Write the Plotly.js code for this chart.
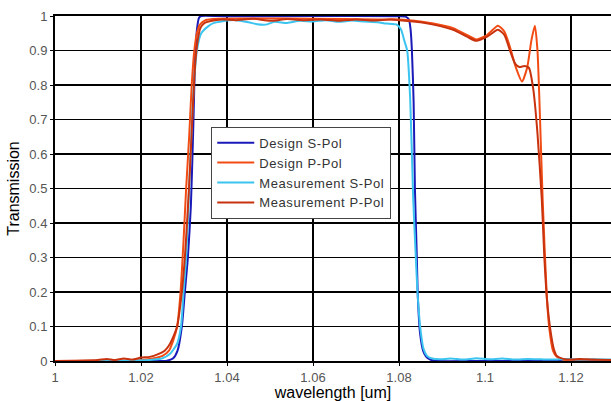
<!DOCTYPE html>
<html>
<head>
<meta charset="utf-8">
<script src="https://cdn.plot.ly/plotly-3.0.1.min.js"></script>
<style>html,body{margin:0;padding:0;background:#fff;}#chart{width:611px;height:401px;}
.legendtext{letter-spacing:0.6px;}</style>
</head>
<body>
<div id="chart"></div>
<script>
// Design S-Pol
const designSX = [1.000,1.020,1.026,1.0275,1.0285,1.0295,1.0302,1.0309,1.0316,1.0321,1.0326,1.0331,1.0335,1.034,1.040,1.060,1.080,1.0815,1.0823,1.0827,1.0830,1.0834,1.0837,1.0841,1.0844,1.0849,1.0856,1.0862,1.0867,1.0875,1.089,1.100,1.130];
const designSY = [0,0,0.001,0.008,0.03,0.1,0.2,0.3,0.45,0.65,0.88,0.97,0.995,1.0,0.999,1.0,0.999,0.998,0.99,0.96,0.9,0.75,0.5,0.32,0.18,0.08,0.03,0.015,0.008,0.003,0,0,0];

// Design P-Pol
const designPX = [1.000,1.015,1.020,1.023,1.025,1.0265,1.0275,1.0284,1.0292,1.0299,1.0305,1.0312,1.0318,1.0324,1.033,1.0337,1.035,1.038,1.045,1.060,1.075,1.080,1.085,1.088,1.0926,1.0958,1.098,1.1005,1.103,1.1045,1.1058,1.1072,1.1086,1.1098,1.1108,1.1116,1.1122,1.1128,1.1134,1.1144,1.115,1.1158,1.1167,1.118,1.120,1.130];
const designPY = [0,0.001,0.003,0.008,0.015,0.03,0.06,0.1,0.2,0.35,0.5,0.65,0.8,0.9,0.95,0.975,0.988,0.992,0.993,0.992,0.99,0.99,0.984,0.978,0.965,0.945,0.932,0.945,0.972,0.955,0.91,0.85,0.81,0.85,0.93,0.972,0.9,0.7,0.47,0.18,0.09,0.03,0.012,0.004,0,0];

// Measurement S-Pol
const measSX = [1.000,1.010,1.018,1.022,1.025,1.0267,1.0284,1.0293,1.0299,1.0305,1.0312,1.0318,1.0323,1.033,1.034,1.0356,1.037,1.039,1.042,1.045,1.047,1.049,1.051,1.054,1.057,1.060,1.063,1.066,1.069,1.072,1.075,1.077,1.0795,1.0805,1.0812,1.0819,1.0826,1.0833,1.0838,1.0843,1.0850,1.0857,1.0865,1.0875,1.0895,1.092,1.095,1.098,1.101,1.104,1.107,1.110,1.113,1.116,1.119,1.122,1.125,1.130];
const measSY = [0,0,0.001,0.003,0.008,0.02,0.05,0.1,0.2,0.3,0.5,0.68,0.8,0.9,0.95,0.97,0.98,0.985,0.988,0.982,0.976,0.975,0.983,0.98,0.986,0.984,0.988,0.983,0.987,0.984,0.982,0.978,0.975,0.96,0.93,0.9,0.76,0.47,0.33,0.2,0.09,0.035,0.015,0.008,0.005,0.007,0.004,0.008,0.005,0.007,0.004,0.006,0.005,0.004,0.006,0.004,0.005,0.004];

// Measurement P-Pol
const measPX = [1.000,1.005,1.010,1.012,1.014,1.016,1.018,1.020,1.022,1.024,1.0255,1.0265,1.0275,1.0284,1.0295,1.0302,1.0308,1.0314,1.0320,1.0326,1.0332,1.0338,1.0348,1.036,1.039,1.042,1.046,1.050,1.054,1.058,1.062,1.066,1.070,1.074,1.078,1.080,1.085,1.088,1.0926,1.0958,1.098,1.1005,1.103,1.1045,1.1058,1.107,1.108,1.1092,1.1102,1.1112,1.1122,1.1132,1.1138,1.1144,1.1152,1.116,1.1167,1.118,1.120,1.122,1.125,1.130];
const measPY = [0,0.001,0.003,0.006,0.003,0.007,0.004,0.01,0.012,0.02,0.03,0.045,0.07,0.1,0.2,0.3,0.42,0.56,0.72,0.86,0.93,0.965,0.98,0.985,0.99,0.988,0.992,0.986,0.991,0.988,0.99,0.986,0.99,0.987,0.99,0.988,0.982,0.975,0.96,0.94,0.928,0.94,0.96,0.945,0.9,0.862,0.852,0.855,0.85,0.79,0.66,0.47,0.3,0.18,0.09,0.035,0.015,0.007,0.004,0.006,0.004,0.003];

const traces = [
  {name:'Design S-Pol', x:designSX, y:designSY, color:'#1a1ab8'},
  {name:'Design P-Pol', x:designPX, y:designPY, color:'#f24c14'},
  {name:'Measurement S-Pol', x:measSX, y:measSY, color:'#3cc4f0'},
  {name:'Measurement P-Pol', x:measPX, y:measPY, color:'#c8320e'}
].map(s => ({type:'scatter', mode:'lines', name:s.name, x:s.x, y:s.y,
  line:{color:s.color, width:2, shape:'spline', smoothing:0.6}}));

const fam = '"Liberation Sans", Arial, sans-serif';
const tickFont = {family:fam, size:13, color:'#555'};
const layout = {
  width:611, height:401,
  margin:{l:55, r:0, t:16, b:40},
  paper_bgcolor:'#fff', plot_bgcolor:'#fff',
  showlegend:true,
  legend:{x:0.281, y:0.679, xanchor:'left', yanchor:'top',
    bgcolor:'#fff', bordercolor:'#444', borderwidth:1,
    font:{family:fam, size:13, color:'#333'},
    tracegroupgap:0, itemwidth:37},
  xaxis:{range:[1.0, 1.1293], tickvals:[1,1.02,1.04,1.06,1.08,1.1,1.12],
    ticktext:['1','1.02','1.04','1.06','1.08','1.1','1.12'],
    showgrid:true, gridcolor:'#000', gridwidth:1.5, zeroline:false,
    showline:true, linecolor:'#000', linewidth:2, mirror:true,
    ticks:'outside', ticklen:3, tickcolor:'#000', tickfont:tickFont,
    title:{text:'wavelength [um]', font:{family:fam, size:16, color:'#000'}, standoff:2}},
  yaxis:{range:[0, 1], tickvals:[0,0.1,0.2,0.3,0.4,0.5,0.6,0.7,0.8,0.9,1],
    ticktext:['0','0.1','0.2','0.3','0.4','0.5','0.6','0.7','0.8','0.9','1'],
    showgrid:true, gridcolor:'#000', gridwidth:1.5, zeroline:false,
    showline:true, linecolor:'#000', linewidth:2,
    ticks:'outside', ticklen:3, tickcolor:'#000', tickfont:tickFont,
    title:{text:'Transmission', font:{family:fam, size:16, color:'#000'}, standoff:6}}
};
Plotly.newPlot('chart', traces, layout, {staticPlot:true, displayModeBar:false});
</script>
</body>
</html>
